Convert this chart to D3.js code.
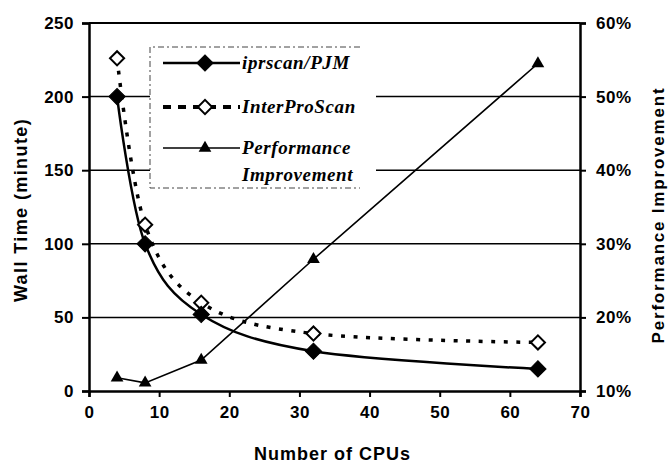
<!DOCTYPE html>
<html>
<head>
<meta charset="utf-8">
<script src="https://cdn.jsdelivr.net/npm/d3@7"></script>
<style>
  body { margin: 0; background: #fff; }
  text { font-family: "Liberation Sans", Arial, sans-serif; font-weight: bold; fill: #000; }
  .leg { font-family: "Liberation Serif", "Times New Roman", serif; font-style: italic; font-size: 19px; letter-spacing: 0.6px; }
</style>
</head>
<body>
<div id="chart"></div>
<script>
var cpus = [4, 8, 16, 32, 64];
var iprscan = [200, 100, 52, 27, 15];
var interpro = [226, 113, 60, 39, 33];
var perf = [11.8, 11.1, 14.2, 27.9, 54.5];
var xTicks = [0, 10, 20, 30, 40, 50, 60, 70];
var yTicks = [0, 50, 100, 150, 200, 250];
var pTicks = [10, 20, 30, 40, 50, 60];

var width = 668, height = 463;
var plotLeft = 89, plotRight = 580, plotTop = 23, plotBottom = 391;

var svg = d3.select("#chart").append("svg")
  .attr("width", width)
  .attr("height", height);

var x = d3.scaleLinear().domain([0, 70]).range([plotLeft, plotRight]);
var y = d3.scaleLinear().domain([0, 250]).range([plotBottom, plotTop]);
var yp = d3.scaleLinear().domain([10, 60]).range([plotBottom, plotTop]);

// gridlines
svg.selectAll(".grid").data(yTicks.slice(1)).enter().append("line")
  .attr("x1", plotLeft).attr("x2", plotRight)
  .attr("y1", function(d) { return y(d); })
  .attr("y2", function(d) { return y(d); })
  .style("stroke", "#000")
  .style("stroke-width", function(d) { return d == 250 ? 2 : 1.5; });

// axes
var xAxis = svg.append("g").attr("transform", "translate(0," + plotBottom + ")")
  .call(d3.axisBottom(x).tickValues(xTicks).tickSize(6).tickPadding(9));
var yAxis = svg.append("g").attr("transform", "translate(" + plotLeft + ",0)")
  .call(d3.axisLeft(y).tickValues(yTicks).tickSize(7).tickPadding(8));
var pAxis = svg.append("g").attr("transform", "translate(" + plotRight + ",0)")
  .call(d3.axisRight(yp).tickValues(pTicks).tickSize(6).tickPadding(10)
    .tickFormat(function(d) { return d + "%"; }));

[xAxis, yAxis, pAxis].forEach(function(a) {
  a.select(".domain").style("stroke", "#000").style("stroke-width", 2.5);
  a.selectAll(".tick line").style("stroke", "#000").style("stroke-width", 2);
  a.selectAll("text")
    .style("font-family", "'Liberation Sans', Arial, sans-serif")
    .style("font-weight", "bold")
    .style("font-size", "17px")
    .style("letter-spacing", "0.5px")
    .style("fill", "#000");
});

// lines
var smooth = d3.curveCardinal.tension(0);
var lineW = d3.line().curve(smooth)
  .x(function(d) { return x(d[0]); })
  .y(function(d) { return y(d[1]); });
var lineP = d3.line()
  .x(function(d) { return x(d[0]); })
  .y(function(d) { return yp(d[1]); });

var ipData = d3.zip(cpus, iprscan);
var intData = d3.zip(cpus, interpro);
var pData = d3.zip(cpus, perf);

svg.append("path").datum(intData).attr("d", lineW)
  .style("fill", "none").style("stroke", "#000")
  .style("stroke-width", 3.5).style("stroke-dasharray", "4,8.5");
svg.append("path").datum(ipData).attr("d", lineW)
  .style("fill", "none").style("stroke", "#000").style("stroke-width", 2.5);
svg.append("path").datum(pData).attr("d", lineP)
  .style("fill", "none").style("stroke", "#000").style("stroke-width", 1.6);

function drawDiamond(cx, cy, filled) {
  var s = filled ? 11.5 : 10;
  svg.append("rect")
    .attr("x", -s / 2).attr("y", -s / 2).attr("width", s).attr("height", s)
    .attr("transform", "translate(" + cx + "," + cy + ") rotate(45)")
    .style("fill", filled ? "#000" : "#fff")
    .style("stroke", "#000")
    .style("stroke-width", filled ? 1 : 2);
}
function drawTriangle(cx, cy) {
  svg.append("path")
    .attr("d", d3.symbol().type(d3.symbolTriangle).size(70)())
    .attr("transform", "translate(" + cx + "," + cy + ")")
    .style("fill", "#000");
}

intData.forEach(function(d) { drawDiamond(x(d[0]), y(d[1]), false); });
ipData.forEach(function(d) { drawDiamond(x(d[0]), y(d[1]), true); });
pData.forEach(function(d) { drawTriangle(x(d[0]), yp(d[1])); });

// legend
svg.append("rect")
  .attr("x", 150).attr("y", 47).attr("width", 226).attr("height", 141)
  .style("fill", "#fff");
svg.append("path")
  .attr("d", "M360,47 H150 V188 H360")
  .style("fill", "none").style("stroke", "#444")
  .style("stroke-width", 1).style("stroke-dasharray", "6,3,2,3");

var legRows = [
  { y: 63, name: ["iprscan/PJM"], dash: null, w: 2.5, mark: "fd" },
  { y: 107, name: ["InterProScan"], dash: "8,7", w: 4, mark: "od" },
  { y: 148, name: ["Performance", "Improvement"], dash: null, w: 1.6, mark: "tri" }
];
legRows.forEach(function(r) {
  svg.append("line")
    .attr("x1", 163).attr("x2", 240).attr("y1", r.y).attr("y2", r.y)
    .style("stroke", "#000").style("stroke-width", r.w)
    .style("stroke-dasharray", r.dash);
  if (r.mark == "fd") drawDiamond(205, r.y, true);
  if (r.mark == "od") drawDiamond(205, r.y, false);
  if (r.mark == "tri") drawTriangle(205, r.y);
  r.name.forEach(function(t, i) {
    svg.append("text").attr("class", "leg")
      .attr("x", 242).attr("y", r.y + 6 + i * 27)
      .text(t);
  });
});

// axis titles
svg.append("text")
  .attr("x", (plotLeft + plotRight) / 2 - 2).attr("y", 460)
  .attr("text-anchor", "middle")
  .style("font-size", "18px").style("letter-spacing", "1px")
  .text("Number of CPUs");
svg.append("text")
  .attr("transform", "translate(27,210) rotate(-90)")
  .attr("text-anchor", "middle")
  .style("font-size", "18px").style("letter-spacing", "1.4px")
  .text("Wall Time (minute)");
svg.append("text")
  .attr("transform", "translate(664,215) rotate(-90)")
  .attr("text-anchor", "middle")
  .style("font-size", "17px").style("letter-spacing", "1.8px")
  .text("Performance Improvement");
</script>
</body>
</html>
